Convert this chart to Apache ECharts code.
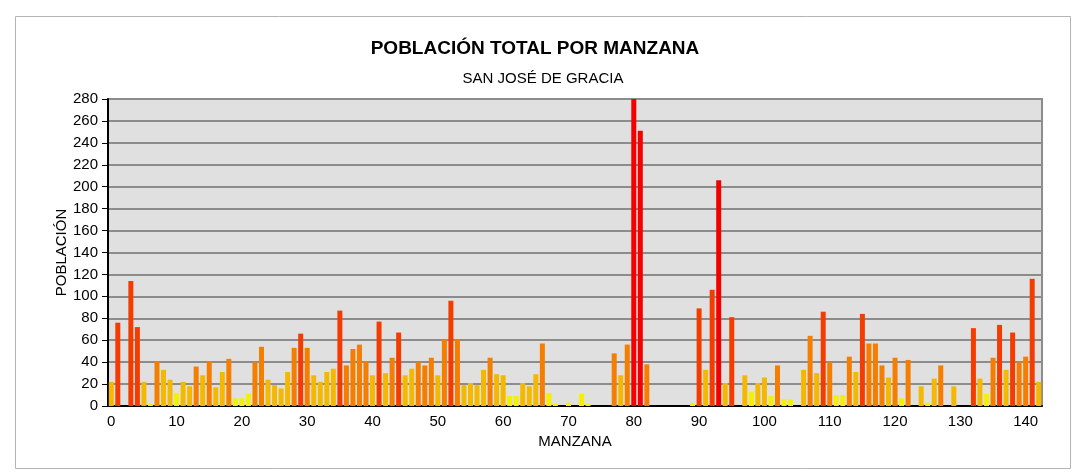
<!DOCTYPE html>
<html>
<head>
<meta charset="utf-8">
<script src="https://cdn.jsdelivr.net/npm/echarts@6/dist/echarts.min.js"></script>
<style>
    html, body { margin: 0; padding: 0; background: #fff; }
    #chart { width: 1078px; height: 474px; }
</style>
</head>
<body>
<div id="chart"></div>
<script>
// poblacion por manzana (0..142)
var poblacion = [
    22, 76, 0, 114, 72, 22, 2, 41, 33, 24,
    12, 22, 18, 36, 28, 41, 17, 31, 43, 7,
    7, 11, 40, 54, 24, 19, 16, 31, 53, 66,
    53, 28, 22, 31, 34, 87, 37, 52, 56, 41,
    28, 77, 30, 44, 67, 28, 34, 40, 37, 44,
    28, 61, 96, 61, 19, 21, 19, 33, 44, 29,
    28, 9, 9, 21, 18, 29, 57, 12, 2, 0,
    3, 0, 11, 2, 0, 0, 0, 48, 28, 56,
    280, 251, 38, 0, 0, 0, 0, 0, 0, 3,
    89, 33, 106, 206, 21, 81, 0, 28, 13, 21,
    26, 9, 37, 6, 6, 0, 33, 64, 30, 86,
    40, 10, 10, 45, 31, 84, 57, 57, 37, 26,
    44, 7, 42, 0, 18, 3, 25, 37, 0, 18,
    0, 0, 71, 25, 11, 44, 74, 33, 67, 40,
    45, 116, 22
];
var manzanas = [];
for (var i = 0; i < poblacion.length; i++) {
    manzanas.push(String(i));
}
// clases de color por rango de poblacion
var limites = [15, 35, 65, 150];
var colores = ['#f5f000', '#f5b800', '#f57d00', '#f53c00', '#f50000'];

function colorPorValor(v) {
    for (var k = 0; k < limites.length; k++) {
        if (v < limites[k]) return colores[k];
    }
    return colores[colores.length - 1];
}

var chart = echarts.init(document.getElementById('chart'));
var fuente = 'Liberation Sans';
var option = {
    backgroundColor: '#ffffff',
    animation: false,
    title: [{
        text: 'POBLACIÓN TOTAL POR MANZANA',
        left: 530,
        top: 34,
        textAlign: 'center',
        textStyle: { fontFamily: fuente, fontSize: 19, fontWeight: 'bold', color: '#000' }
    }, {
        text: 'SAN JOSÉ DE GRACIA',
        left: 538,
        top: 66,
        textAlign: 'center',
        textStyle: { fontFamily: fuente, fontSize: 15, fontWeight: 'normal', color: '#000' }
    }],
    graphic: [{
        type: 'rect',
        shape: { x: 15.5, y: 16.5, width: 1055, height: 452 },
        style: { fill: 'none', stroke: '#b4b4b4', lineWidth: 1 },
        silent: true
    }],
    grid: {
        left: 108,
        right: 36,
        top: 99,
        bottom: 68,
        show: true,
        backgroundColor: '#e0e0e0',
        borderColor: '#8c8c8c',
        borderWidth: 2
    },
    xAxis: {
        type: 'category',
        data: manzanas,
        boundaryGap: true,
        name: 'MANZANA',
        nameLocation: 'middle',
        nameGap: 28,
        nameTextStyle: { fontFamily: fuente, fontSize: 15, color: '#000' },
        axisLine: { lineStyle: { color: '#000', width: 2 } },
        axisTick: { interval: 9, alignWithLabel: true, length: 6, lineStyle: { color: '#000', width: 1 } },
        axisLabel: { interval: 9, fontFamily: fuente, fontSize: 15, color: '#000', margin: 8 },
        splitLine: { show: false }
    },
    yAxis: {
        type: 'value',
        min: 0,
        max: 280,
        interval: 20,
        name: 'POBLACIÓN',
        nameLocation: 'middle',
        nameGap: 39,
        nameMoveOverlap: false,
        nameRotate: 90,
        nameTextStyle: { fontFamily: fuente, fontSize: 15, color: '#000' },
        axisLine: { show: true, lineStyle: { color: '#000', width: 2 } },
        axisTick: { show: true, length: 6, lineStyle: { color: '#000', width: 1 } },
        axisLabel: { fontFamily: fuente, fontSize: 15, color: '#000', margin: 10 },
        splitLine: { lineStyle: { color: '#8c8c8c', width: 2 } }
    },
    series: [{
        type: 'bar',
        data: poblacion,
        barWidth: 5,
        itemStyle: {
            color: function (p) { return colorPorValor(p.value); }
        }
    }]
};
chart.setOption(option);
</script>
</body>
</html>
